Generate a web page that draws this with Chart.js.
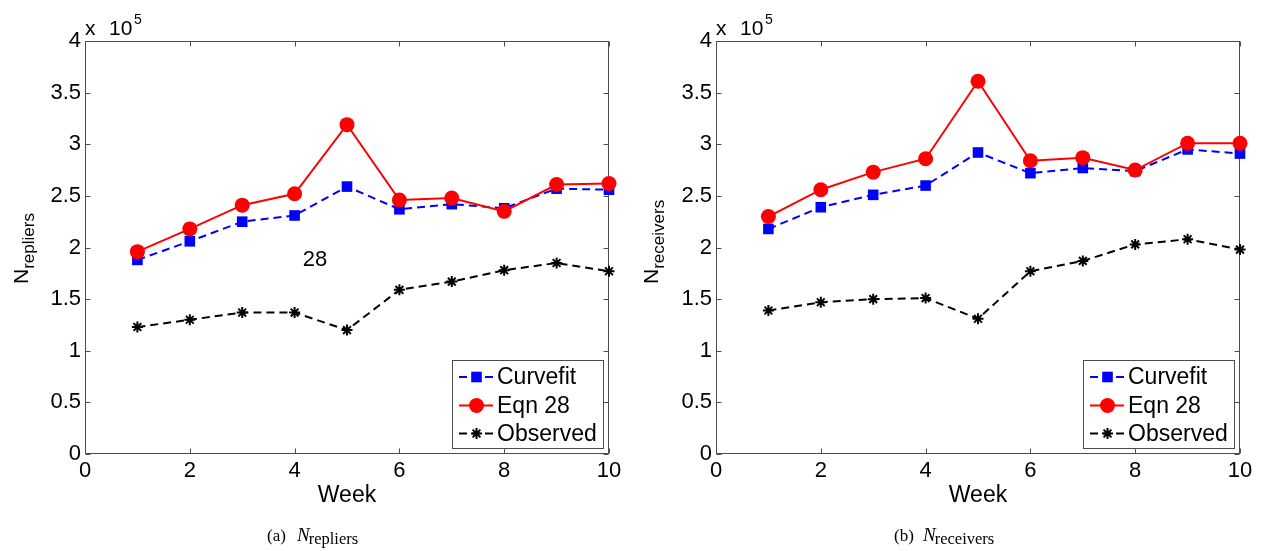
<!DOCTYPE html>
<html>
<head>
<meta charset="utf-8">
<script src="https://cdn.jsdelivr.net/npm/chart.js@4/dist/chart.umd.min.js"></script>
<style>
  html, body { margin: 0; padding: 0; background: #fff; }
  body { width: 1264px; height: 551px; overflow: hidden; position: relative; }
  canvas { position: absolute; top: 0; }
</style>
</head>
<body>
<canvas id="repliers" width="632" height="551" style="left:0"></canvas>
<canvas id="receivers" width="632" height="551" style="left:632px"></canvas>
<script>
// Weekly estimates of the number of repliers and receivers
const weeks = [1, 2, 3, 4, 5, 6, 7, 8, 9, 10];
const xTickValues = [0, 2, 4, 6, 8, 10];
const yTickStep = 50000;          // y labels are shown in units of 10^5
const yMax = 400000;
const seriesNames = ['Curvefit', 'Eqn 28', 'Observed'];

const repliersCurvefit = [188000, 206000, 225000, 231000, 259000, 237000, 242000, 238000, 257000, 256000];
const repliersEqn28    = [196000, 218000, 241000, 252000, 319000, 246000, 248000, 235000, 261000, 262000];
const repliersObserved = [123000, 130000, 137000, 137000, 120000, 159000, 167000, 178000, 185000, 177000];

const receiversCurvefit = [218000, 239000, 251000, 260000, 292000, 272000, 277000, 274000, 295000, 291000];
const receiversEqn28    = [230000, 256000, 273000, 286000, 361000, 284000, 287000, 275000, 301000, 301000];
const receiversObserved = [139000, 147000, 150000, 151000, 131000, 177000, 187000, 203000, 208000, 198000];

const SANS = '"Liberation Sans", Arial, Helvetica, sans-serif';
const SERIF = '"Liberation Serif", "Times New Roman", serif';
const AXIS_COLOR = '#4d4d4d';

function points(values) {
  return weeks.map((w, i) => ({ x: w, y: values[i] }));
}

function makeDatasets(curvefit, eqn, observed) {
  return [
    {
      label: seriesNames[0], data: points(curvefit),
      borderColor: '#0000ff', backgroundColor: '#0000ff', borderWidth: 2, borderDash: [8, 5],
      pointStyle: 'rect', pointRadius: 7.5, pointBorderWidth: 0,
      pointBackgroundColor: '#0000ff', pointBorderColor: '#0000ff',
      order: 1, clip: false, tension: 0
    },
    {
      label: seriesNames[1], data: points(eqn),
      borderColor: '#ff0000', backgroundColor: '#ff0000', borderWidth: 2,
      pointStyle: 'circle', pointRadius: 7.5, pointBorderWidth: 0,
      pointBackgroundColor: '#ff0000', pointBorderColor: '#ff0000',
      order: 0, clip: false, tension: 0
    },
    {
      label: seriesNames[2], data: points(observed),
      borderColor: '#000000', backgroundColor: '#000000', borderWidth: 2, borderDash: [8, 5],
      pointStyle: 'star', pointRadius: 5.5, pointBorderWidth: 2,
      pointBackgroundColor: '#000000', pointBorderColor: '#000000',
      order: 2, clip: false, tension: 0
    }
  ];
}

// marker used in the legend samples
function drawMarker(ctx, ds, cx, cy) {
  ctx.save();
  ctx.setLineDash([]);
  ctx.fillStyle = ds.pointBackgroundColor;
  ctx.strokeStyle = ds.pointBorderColor;
  ctx.lineWidth = ds.pointBorderWidth || 1;
  const r = ds.pointRadius;
  if (ds.pointStyle === 'circle') {
    ctx.beginPath(); ctx.arc(cx, cy, r, 0, Math.PI * 2); ctx.fill();
  } else if (ds.pointStyle === 'rect') {
    const h = r * Math.SQRT1_2;
    ctx.fillRect(cx - h, cy - h, 2 * h, 2 * h);
  } else {
    ctx.beginPath();
    for (let k = 0; k < 4; k++) {
      const ang = k * Math.PI / 4;
      ctx.moveTo(cx - r * Math.cos(ang), cy - r * Math.sin(ang));
      ctx.lineTo(cx + r * Math.cos(ang), cy + r * Math.sin(ang));
    }
    ctx.stroke();
  }
  ctx.restore();
}

// MATLAB-style box with inward ticks on every side
const boxAxes = {
  id: 'boxAxes',
  beforeDatasetsDraw(chart) {
    const { ctx, chartArea: a, scales: { x, y } } = chart;
    const L = Math.round(a.left) + 0.5, R = Math.round(a.right) - 0.5;
    const T = Math.round(a.top) + 0.5, B = Math.round(a.bottom) - 0.5;
    ctx.save();
    ctx.strokeStyle = AXIS_COLOR;
    ctx.lineWidth = 1;
    ctx.strokeRect(L, T, R - L, B - T);
    ctx.beginPath();
    x.ticks.forEach(t => {
      const px = Math.round(x.getPixelForValue(t.value)) + 0.5;
      ctx.moveTo(px, B); ctx.lineTo(px, B - 5);
      ctx.moveTo(px, T); ctx.lineTo(px, T + 5);
    });
    y.ticks.forEach(t => {
      const py = Math.round(y.getPixelForValue(t.value)) + 0.5;
      ctx.moveTo(L, py); ctx.lineTo(L + 5, py);
      ctx.moveTo(R, py); ctx.lineTo(R - 5, py);
    });
    ctx.stroke();
    ctx.restore();
  },
  afterDraw(chart, args, opts) {
    const { ctx, chartArea: a } = chart;
    ctx.save();
    ctx.fillStyle = '#000';
    ctx.textBaseline = 'alphabetic';
    ctx.textAlign = 'left';

    // exponent above the y axis
    ctx.font = '21px ' + SANS;
    ctx.fillText('x', a.left, 35);
    ctx.fillText('10', a.left + 24, 35);
    ctx.font = '14px ' + SANS;
    ctx.fillText('5', a.left + 49, 24);

    // y axis title with subscript, rotated
    ctx.save();
    ctx.translate(opts.yTitleX, 284);
    ctx.rotate(-Math.PI / 2);
    ctx.font = '21px ' + SANS;
    ctx.fillText('N', 0, 0);
    const nW = ctx.measureText('N').width;
    ctx.font = '17px ' + SANS;
    ctx.fillText(opts.sub, nW, 6);
    ctx.restore();

    // x axis title
    ctx.font = '23px ' + SANS;
    ctx.textAlign = 'center';
    ctx.fillText('Week', (a.left + a.right) / 2, 502);

    // stray label inside the axes
    if (opts.note) {
      ctx.font = '22px ' + SANS;
      ctx.fillText(opts.note.text, opts.note.x, opts.note.y);
    }

    // legend box
    const lw = 151, lh = 88;
    const lx = Math.round(a.right) - 6 - lw, ly = Math.round(a.bottom) - 6 - lh;
    ctx.fillStyle = '#fff';
    ctx.fillRect(lx, ly, lw, lh);
    ctx.strokeStyle = AXIS_COLOR;
    ctx.lineWidth = 1;
    ctx.strokeRect(lx + 0.5, ly + 0.5, lw, lh);
    const rows = [17, 45.5, 73.5];
    ctx.textAlign = 'left';
    ctx.textBaseline = 'middle';
    ctx.font = '23px ' + SANS;
    chart.data.datasets.forEach((ds, i) => {
      const cy = ly + rows[i];
      ctx.save();
      ctx.strokeStyle = ds.borderColor;
      ctx.lineWidth = ds.borderWidth;
      ctx.setLineDash(ds.borderDash || []);
      ctx.beginPath();
      ctx.moveTo(lx + 7, cy); ctx.lineTo(lx + 41, cy);
      ctx.stroke();
      ctx.restore();
      drawMarker(ctx, ds, lx + 24.5, cy);
      ctx.fillStyle = '#000';
      ctx.fillText(ds.label, lx + 45, cy + 1);
    });

    ctx.restore();
  }
};

function makeChart(id, datasets, cfg) {
  return new Chart(document.getElementById(id), {
    type: 'line',
    data: { datasets },
    plugins: [boxAxes],
    options: {
      responsive: false,
      animation: false,
      events: [],
      layout: { padding: { left: 0, top: 41, right: cfg.padRight, bottom: 0 } },
      plugins: {
        legend: { display: false },
        tooltip: { enabled: false },
        boxAxes: cfg.decor
      },
      scales: {
        x: {
          type: 'linear', min: 0, max: 10,
          afterBuildTicks: s => { s.ticks = xTickValues.map(v => ({ value: v })); },
          grid: { display: false, drawTicks: false },
          border: { display: false },
          ticks: { color: '#000', padding: 4, font: { family: SANS, size: 22 }, maxRotation: 0 },
          afterFit: s => { s.height = 97; }
        },
        y: {
          type: 'linear', min: 0, max: yMax,
          ticks: {
            stepSize: yTickStep, color: '#000', padding: 4,
            font: { family: SANS, size: 22 },
            callback: v => String(v / 100000)
          },
          grid: { display: false, drawTicks: false },
          border: { display: false },
          afterFit: s => { s.width = cfg.yWidth; }
        }
      }
    }
  });
}

makeChart('repliers', makeDatasets(repliersCurvefit, repliersEqn28, repliersObserved), {
  padRight: 23, yWidth: 85,
  decor: { sub: 'repliers', yTitleX: 28, note: { text: '28', x: 315, y: 266 } }
});
makeChart('receivers', makeDatasets(receiversCurvefit, receiversEqn28, receiversObserved), {
  padRight: 24, yWidth: 84,
  decor: { sub: 'receivers', yTitleX: 26, note: null }
});

// captions under each panel
function caption(canvasId, x, nx, letter, sub) {
  const ctx = document.getElementById(canvasId).getContext('2d');
  ctx.save();
  ctx.fillStyle = '#000';
  ctx.textBaseline = 'alphabetic';
  ctx.font = '17px ' + SERIF;
  ctx.fillText('(' + letter + ')', x, 541);
  ctx.font = 'italic 19px ' + SERIF;
  ctx.fillText('N', nx, 541);
  const nw = ctx.measureText('N').width;
  ctx.font = '16.5px ' + SERIF;
  ctx.fillText(sub, nx + nw - 1, 544);
  ctx.restore();
}
caption('repliers', 267, 297, 'a', 'repliers');
caption('receivers', 894 - 632, 923 - 632, 'b', 'receivers');
</script>
</body>
</html>
